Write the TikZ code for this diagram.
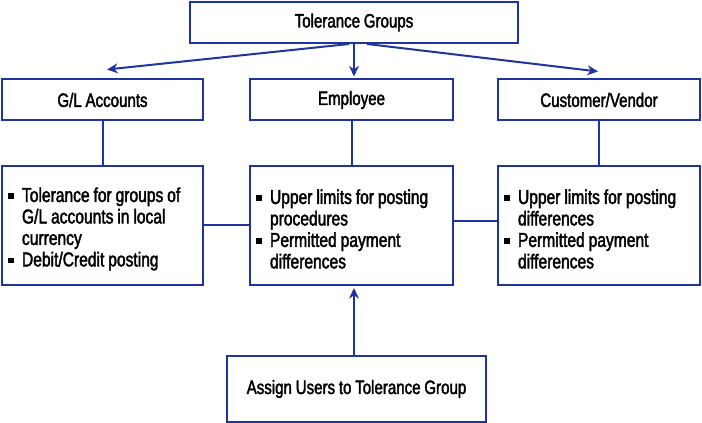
\documentclass[tikz,border=0pt]{standalone}
\usepackage{fontspec}
\setmainfont{Liberation Sans}[FakeStretch=0.78, FakeBold=2, WordSpace=0.9]
\usetikzlibrary{arrows.meta}
\definecolor{tgblue}{RGB}{32,52,160}

% bullet item with hanging indent
\newcommand{\bpt}[1]{\par\hangindent=10.5pt\hangafter=1\noindent\makebox[10.5pt][l]{\rule[2.4pt]{4.2pt}{4.2pt}}#1\par}
\newcommand{\nl}{\hfill\break}

\begin{document}
\begin{tikzpicture}[x=0.75pt, y=-0.75pt, >=Stealth, line cap=butt, line join=miter,
    box/.style={draw=tgblue, line width=1.5pt, inner sep=0pt, minimum height=30.75pt,
        font=\fontsize{14.5}{16.1}\selectfont},
    detail/.style={box, minimum height=89.25pt, inner xsep=4.5pt, text width=141.75pt, align=flush left,
        font=\fontsize{15}{16.1}\selectfont},
    link/.style={draw=tgblue, line width=1.5pt},
    arr/.style={link, -{Stealth[length=8pt, width=7.5pt]}}]
    \useasboundingbox (0,0) rectangle (702,423);

    % Top box
    \node[box, minimum width=246pt] (top) at (354,22.5) {Tolerance Groups};

    % Second row
    \node[box, minimum width=150.75pt] (gl) at (102.5,100) {G/L Accounts};
    \node[box, minimum width=152.25pt] (emp) at (351.5,100) {Employee};
    \node[box, minimum width=151.5pt] (cv) at (599,100) {Customer/Vendor};

    % Detail boxes
    \node[detail] (gld) at (102.5,225.5) {\bpt{Tolerance for groups of\nl G/L accounts in local\nl currency}\bpt{Debit/Credit posting}};
    \node[detail, text width=143.25pt] (empd) at (351.5,225.5) {\bpt{Upper limits for posting\nl procedures}\bpt{Permitted payment\nl differences}};
    \node[detail, text width=142.5pt] (cvd) at (599,225.5) {\bpt{Upper limits for posting\nl differences}\bpt{Permitted payment\nl differences}};

    % Bottom box
    \node[box, minimum width=194.25pt, minimum height=49.5pt] (assign) at (356.5,389) {Assign Users to Tolerance Group};

    % Arrows from the top box
    \draw[arr] ([xshift=-3.75pt]top.south) -- ([xshift=3.4pt, yshift=6.75pt]gl.north);
    \draw[arr] (top.south) -- ([yshift=1.5pt]top.south |- emp.north);
    \draw[arr] ([xshift=9.75pt]top.south) -- ([xshift=-0.75pt, yshift=5.25pt]cv.north);

    % Vertical links
    \draw[link] (gl.south) -- (gld.north);
    \draw[link] (emp.south) -- (empd.north);
    \draw[link] (cv.south) -- (cvd.north);

    % Horizontal links
    \draw[link] (gld.east) -- (empd.west);
    \draw[link] ([yshift=3pt]empd.east) -- ([yshift=3pt]cvd.west);

    % Arrow from the bottom box
    \draw[arr] (assign.north -| top.south) -- ([yshift=-1.5pt]empd.south -| top.south);
\end{tikzpicture}
\end{document}
